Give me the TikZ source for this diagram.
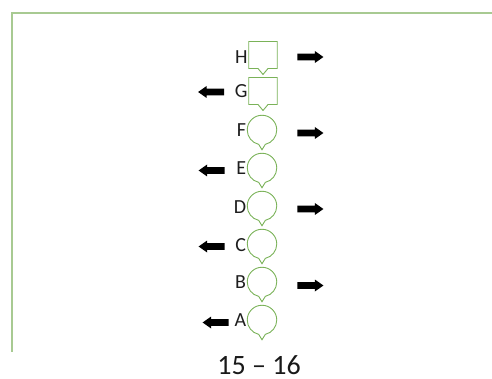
\documentclass[tikz,border=0pt]{standalone}
\usepackage{fontspec}
\setmainfont{Carlito}
\usetikzlibrary{shapes.callouts,shapes.arrows}
\definecolor{shapegreen}{RGB}{122,178,88}
\definecolor{framegreen}{RGB}{168,202,146}
\definecolor{labgrey}{RGB}{30,30,30}
\begin{document}
\begin{tikzpicture}[x=1pt,y=-1pt,
  sq/.style={rectangle callout, draw=shapegreen, line width=0.9pt,
    minimum width=28.5pt, minimum height=27pt, inner sep=0pt,
    callout relative pointer={(0pt,-6pt)}, callout pointer width=10pt},
  rnd/.style={ellipse callout, draw=shapegreen, line width=0.9pt,
    minimum width=29.5pt, minimum height=29.5pt, inner sep=0pt,
    callout relative pointer={(0pt,-5pt)}, callout pointer arc=26},
  lab/.style={anchor=east, inner sep=0.5pt, text=labgrey,
    font=\fontsize{20}{22}\selectfont},
  rarrow/.style={single arrow, fill=black, draw=none, inner xsep=0pt,
    inner ysep=3.2pt, text height=0pt, text depth=0pt, minimum height=26pt,
    single arrow head extend=2.6pt, single arrow tip angle=70},
  larrow/.style={rarrow, shape border rotate=180}]
\useasboundingbox (0,0) rectangle (492,379);
% frame
\draw[framegreen, line width=1.5pt] (492,13) -- (12,13) -- (12,352);
% shapes
\node[sq] (H) at (263,55) {};
\node[sq] (G) at (263,91) {};
\node[rnd] (F) at (262,130) {};
\node[rnd] (E) at (262,168) {};
\node[rnd] (D) at (262,206) {};
\node[rnd] (C) at (262,244) {};
\node[rnd] (B) at (262,282) {};
\node[rnd] (A) at (262,320) {};
% labels
\node[lab] (lH) at ([yshift=-2pt]H.west) {H};
\node[lab] (lG) at (G.west) {G};
\node[lab] (lF) at (F.west) {F};
\node[lab] (lE) at (E.west) {E};
\node[lab] (lD) at ([yshift=-1pt]D.west) {D};
\node[lab] (lC) at ([yshift=-1pt]C.west) {C};
\node[lab] (lB) at (B.west) {B};
\node[lab] (lA) at (A.west) {A};
% arrows
\node[rarrow] (aH) at (308,57) {};
\node[larrow] (aG) at (213.5,92) {};
\node[rarrow] (aF) at (308,133) {};
\node[larrow] (aE) at (214,170.5) {};
\node[rarrow] (aD) at (308,209) {};
\node[larrow] (aC) at (214,246.5) {};
\node[rarrow] (aB) at (308,285.5) {};
\node[larrow] (aA) at (218,322.5) {};
% caption
\node[font=\fontsize{28}{30}\selectfont, text=black!90, anchor=base, inner sep=0pt] (cap) at (259,374) {15 – 16};
\end{tikzpicture}
\end{document}
